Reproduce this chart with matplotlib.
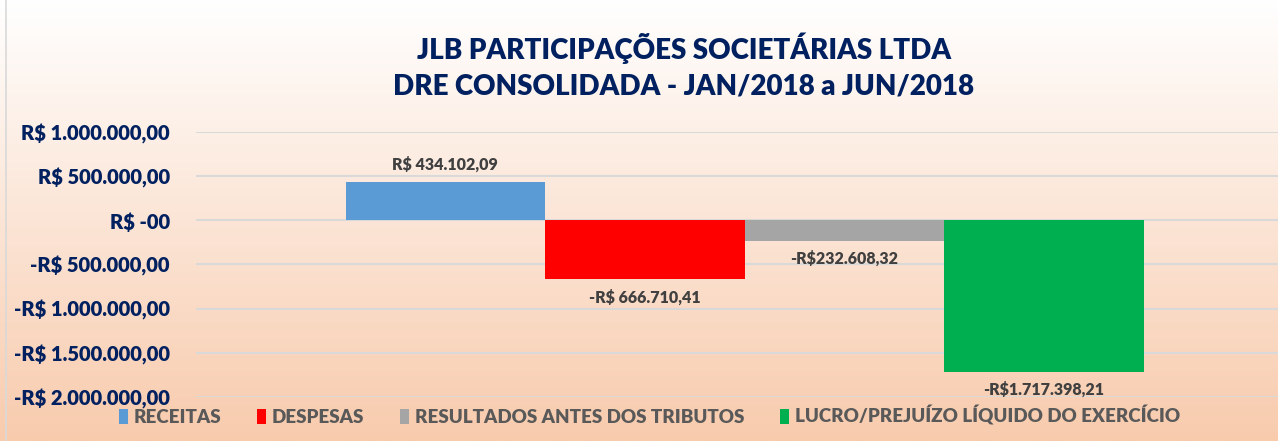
import numpy as np
import matplotlib.pyplot as plt
from matplotlib.ticker import FuncFormatter
from matplotlib.patches import Rectangle

# Dados do gráfico
series = ['RECEITAS', 'DESPESAS', 'RESULTADOS ANTES DOS TRIBUTOS',
          'LUCRO/PREJUÍZO LÍQUIDO DO EXERCÍCIO']
values = [434102.09, -666710.41, -232608.32, -1717398.21]
value_labels = ['R$ 434.102,09', '-R$ 666.710,41', '-R$232.608,32', '-R$1.717.398,21']
colors = ['#5b9bd5', '#ff0000', '#a5a5a5', '#00b050']
title = 'JLB PARTICIPAÇÕES SOCIETÁRIAS LTDA\nDRE CONSOLIDADA - JAN/2018 a JUN/2018'

plt.rcParams['font.family'] = ['Lato', 'DejaVu Sans']

fig = plt.figure(figsize=(12.78, 4.41), dpi=100)

# fundo em degradê (branco -> pêssego)
bg = fig.add_axes([0, 0, 1, 1], zorder=-10)
top = np.array([255, 255, 255]) / 255
bottom = np.array([248, 203, 173]) / 255
t = np.linspace(0, 1, 256)[:, None]
grad = (top * (1 - t) + bottom * t)[:, None, :]
bg.imshow(grad, aspect='auto', extent=[0, 1, 0, 1])
bg.set_axis_off()
fig.patches.append(Rectangle((0.005, -0.01), 1.0, 1.02, transform=fig.transFigure,
                             fill=False, edgecolor='#d9d9d9', linewidth=1.2))

ax = fig.add_axes([0.1534, 0.0998, 0.8466, 0.6009])
ax.set_facecolor('none')

n = len(values)
pos = np.arange(n) - (n - 1) / 2
for p, v, c, s in zip(pos, values, colors, series):
    ax.bar(p, v, width=1.0, color=c, label=s, zorder=3)

for p, v, lab in zip(pos, values, value_labels):
    off = 7 if v > 0 else -7
    ax.annotate(lab, (p, v), xytext=(0, off), textcoords='offset points',
                ha='center', va='bottom' if v > 0 else 'top',
                fontsize=11.5, fontweight='heavy', color='#404040')

ax.set_ylim(-2000000, 1000000)
ax.set_yticks(np.arange(-2000000, 1000001, 500000))
ax.set_xlim(-2.749, 2.673)


def brl(x, _):
    if x == 0:
        return 'R$ -00'
    s = f'{abs(x):,.2f}'.replace(',', 'X').replace('.', ',').replace('X', '.')
    return ('-' if x < 0 else '') + 'R$ ' + s


ax.yaxis.set_major_formatter(FuncFormatter(brl))
ax.tick_params(axis='y', length=0, pad=19, labelsize=14.5, labelcolor='#002060')
for lab in ax.get_yticklabels():
    lab.set_fontweight('heavy')
ax.set_xticks([])
ax.grid(axis='y', color='#d9d9d9', linewidth=1.5, zorder=0)
for sp in ax.spines.values():
    sp.set_visible(False)

fig.text(0.535, 0.85, title, ha='center', va='center', fontsize=20,
         fontweight='heavy', color='#002060', linespacing=1.45)

leg = fig.legend(loc='center', bbox_to_anchor=(0.508, 0.057), ncol=4, frameon=False,
                 handlelength=0.5, handleheight=0.9, handletextpad=0.3,
                 columnspacing=1.9, prop={'size': 13.5, 'weight': 'heavy'})
for txt in leg.get_texts():
    txt.set_color('#595959')

fig.savefig('out.png', dpi=100)
